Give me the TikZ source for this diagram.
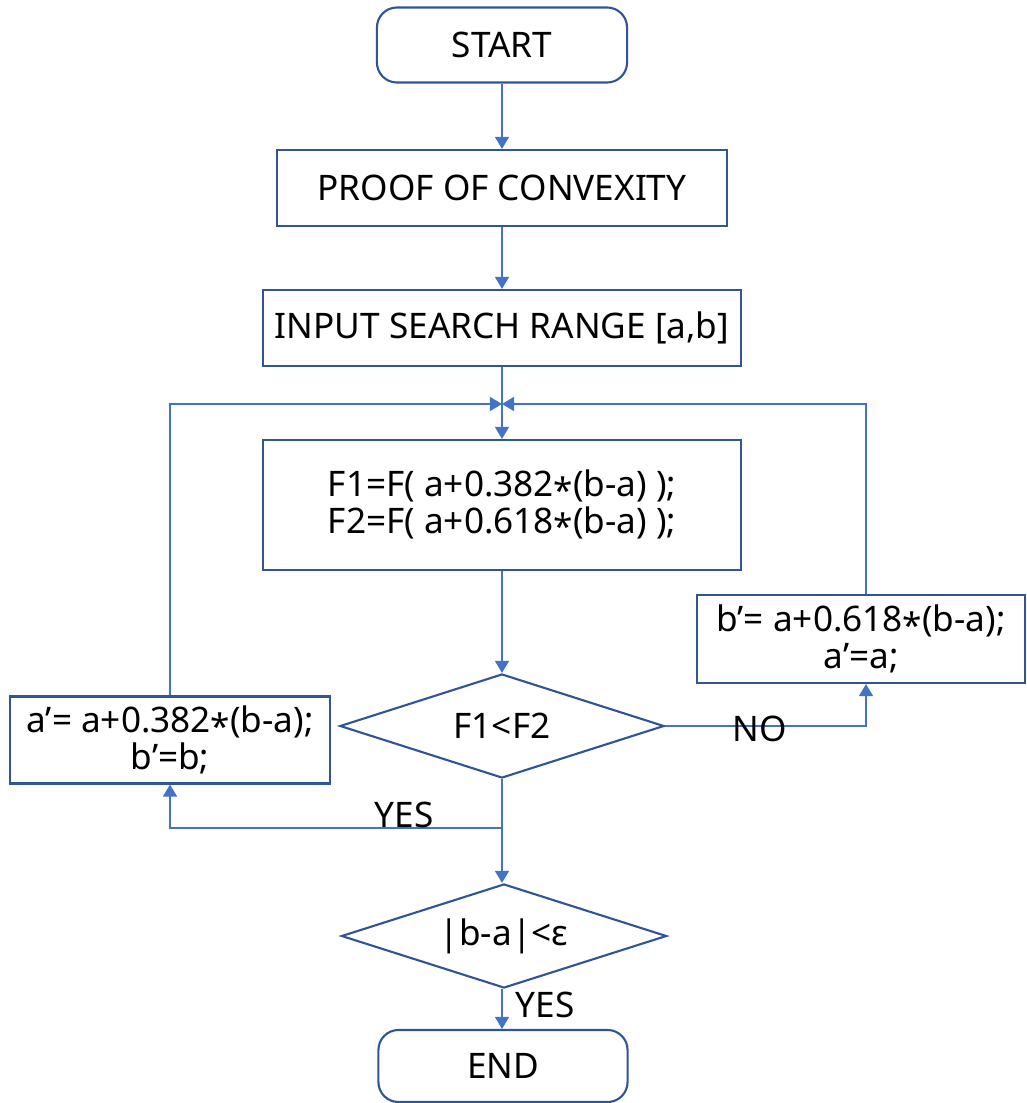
\documentclass[tikz,border=0pt]{standalone}
\usepackage{fontspec}
\setmainfont{Noto Sans}
\usepackage{tikz}
\usetikzlibrary{arrows.meta, positioning, shapes.geometric}

\definecolor{boxblue}{RGB}{47,85,151}
\definecolor{lineblue}{RGB}{68,114,196}

\tikzset{
    block/.style={draw=boxblue, line width=0.6pt, rectangle, align=center, inner sep=0pt},
    terminal/.style={block, rounded corners=2mm, minimum width=2.5cm, minimum height=0.75cm},
    decision/.style={draw=boxblue, line width=0.6pt, diamond, aspect=3.1, inner sep=0pt, align=center},
    flow/.style={draw=lineblue, line width=0.4pt, -{Triangle[length=1.2mm, width=1.4mm]}},
}

\newcommand{\mul}{\raisebox{-0.35ex}{*}}

\begin{document}
\begin{tikzpicture}[x=0.01cm, y=-0.01cm, font=\fontsize{10}{10.4}\selectfont]
    \useasboundingbox (0,0) rectangle (1026,1103);

    % Boxes
    \node (start) at (502,45) [terminal] {START};
    \node (proof) at (502,188) [block, minimum width=4.49cm, minimum height=0.76cm] {PROOF OF CONVEXITY};
    \node (input) at (502,328) [block, minimum width=4.78cm, minimum height=0.76cm] {INPUT SEARCH RANGE [a,b]};
    \node (calc) at (502,505) [block, minimum width=4.78cm, minimum height=1.30cm]
        {F1=F( a+0.382\mul(b-a) );\\F2=F( a+0.618\mul(b-a) );};
    \node (test) at (502,726) [decision, minimum width=3.24cm, minimum height=1.04cm] {F1<F2};
    \node (left) at (170,740) [block, minimum width=3.19cm, minimum height=0.87cm]
        {a’= a+0.382\mul(b-a);\\b’=b;};
    \node (right) at (861,639) [block, minimum width=3.28cm, minimum height=0.88cm]
        {b’= a+0.618\mul(b-a);\\a’=a;};
    \node (check) at (504,936) [decision, minimum width=3.25cm, minimum height=1.04cm] {|b-a|<ε};
    \node (stop) at (503,1066) [terminal, minimum width=2.49cm, minimum height=0.72cm] {END};

    % Junctions
    \coordinate (join) at (502,404);
    \coordinate (split) at (502,828);

    % Connectors
    \draw[flow] (start) -- (proof);
    \draw[flow] (proof) -- (input);
    \draw[flow] (input) -- (calc);
    \draw[flow] (calc) -- (test);
    \draw[flow] (left.north) |- (join);
    \draw[flow] (right.north -| 866,0) |- (join);
    \draw[flow] (test.east) -| (right.south -| 866,0);
    \draw[flow] (split) -| (left.south);
    \draw[flow] (test.south) -- (check.north -| split);
    \draw[flow] (check.south -| split) -- (stop.north -| split);

    % Labels
    \node (no) at (760,729) {NO};
    \node (yes1) at (404,815) {YES};
    \node (yes2) at (545,1005) {YES};
\end{tikzpicture}
\end{document}
